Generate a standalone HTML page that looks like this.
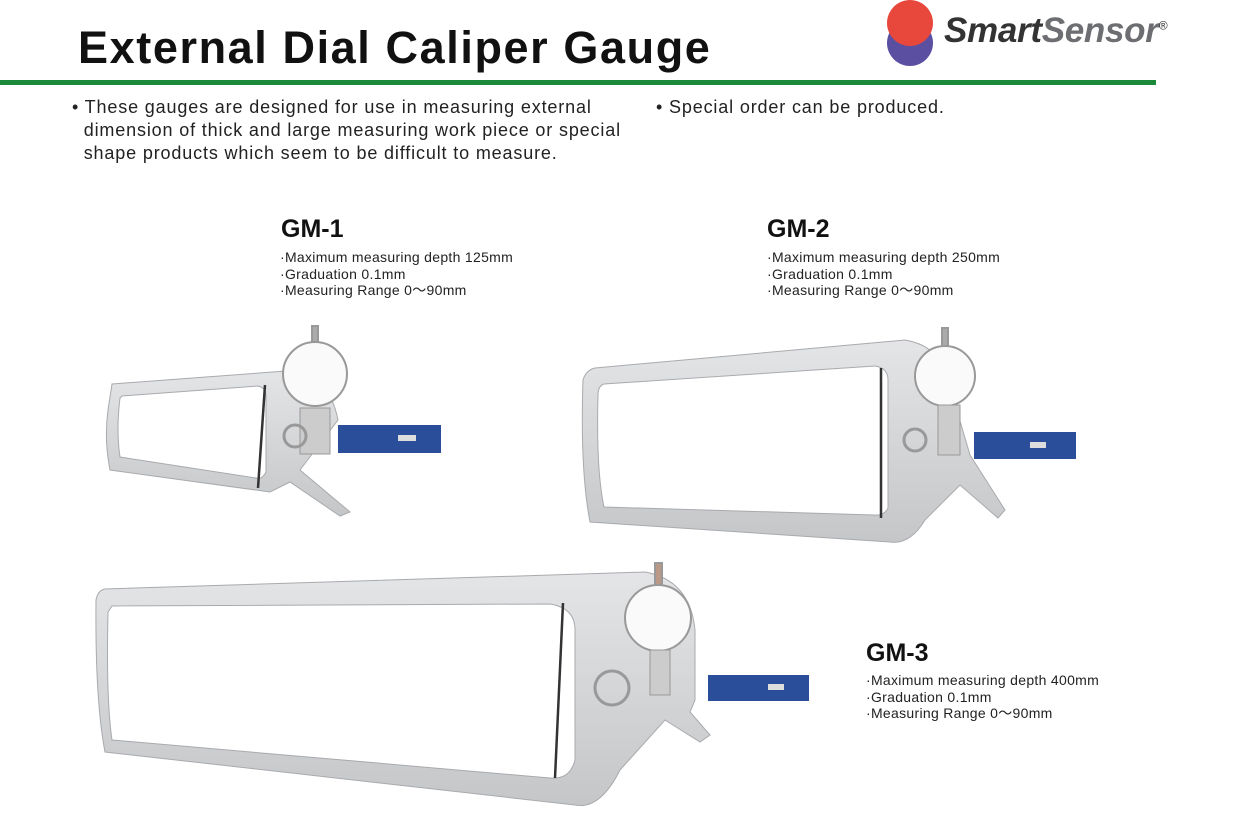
<!DOCTYPE html>
<html><head><meta charset="utf-8"><style>
body{margin:0;width:1243px;height:825px;background:#fff;position:relative;font-family:"Liberation Sans",sans-serif;overflow:hidden}
.a{position:absolute}
h1{position:absolute;left:78px;top:22px;margin:0;font-size:45px;font-weight:bold;color:#111;letter-spacing:1.6px}
.p{font-size:18px;color:#222;line-height:23px;letter-spacing:0.85px}
.t{font-size:25px;font-weight:bold;color:#111}
.s{font-size:14px;color:#222;line-height:16.5px;letter-spacing:0.3px}
</style></head><body>
<h1>External Dial Caliper Gauge</h1>
<div class="a" style="left:887px;top:20px;width:46px;height:46px;border-radius:50%;background:#5b4fa2"></div>
<div class="a" style="left:887px;top:0;width:46px;height:46px;border-radius:50%;background:#e8473c"></div>
<div class="a" style="left:944px;top:11px;font-size:35px;font-weight:bold;font-style:italic;color:#333;letter-spacing:-0.3px">Smart<span style="color:#6d6e71">Sensor</span><sup style="font-size:12px;font-weight:normal">®</sup></div>
<div class="a" style="left:0;top:80px;width:1156px;height:5px;background:#1a8a3a"></div>
<div class="a p" style="left:72px;top:96px">• These gauges are designed for use in measuring external<br>&nbsp;&nbsp;dimension of thick and large measuring work piece or special<br>&nbsp;&nbsp;shape products which seem to be difficult to measure.</div>
<div class="a p" style="left:656px;top:96px">• Special order can be produced.</div>
<div class="a t" style="left:281px;top:215px">GM-1</div>
<div class="a s" style="left:280px;top:249px">·Maximum measuring depth 125mm<br>·Graduation 0.1mm<br>·Measuring Range 0～90mm</div>
<div class="a t" style="left:767px;top:215px">GM-2</div>
<div class="a s" style="left:767px;top:249px">·Maximum measuring depth 250mm<br>·Graduation 0.1mm<br>·Measuring Range 0～90mm</div>
<div class="a t" style="left:866px;top:639px">GM-3</div>
<div class="a s" style="left:866px;top:672px">·Maximum measuring depth 400mm<br>·Graduation 0.1mm<br>·Measuring Range 0～90mm</div>
<svg class="a" style="left:0;top:0" width="1243" height="825">
<defs><linearGradient id="g" x1="0" y1="0" x2="0" y2="1"><stop offset="0" stop-color="#e4e5e7"/><stop offset="1" stop-color="#c4c6c8"/></linearGradient></defs>
<g fill="url(#g)" stroke="#a8aaad" stroke-width="1" fill-rule="evenodd">
<path d="M112 384 L300 370 Q330 380 338 420 L300 470 L350 512 L340 516 L290 482 L270 492 L110 470 Q104 440 108 410 Z M122 396 L258 386 Q266 388 266 396 L266 472 Q262 480 256 478 L120 457 Q116 430 120 398 Z"/>
<path d="M595 368 L905 340 Q935 345 945 370 L970 455 L1005 510 L998 518 L960 485 L925 520 Q910 545 890 542 L590 522 Q580 470 583 380 Q586 370 595 368 Z M604 384 L875 366 Q888 368 888 380 L888 508 Q884 516 874 515 L604 507 Q596 470 598 395 Q598 386 604 384 Z"/>
<path d="M105 589 L645 572 Q690 580 695 630 L695 700 L690 712 L710 735 L700 742 L665 720 L620 770 Q600 810 575 805 L105 752 Q95 700 96 600 Q98 590 105 589 Z M112 606 L550 604 Q575 608 575 630 L575 760 Q570 780 550 778 L112 740 Q106 700 108 612 Z"/>
</g>
<g stroke="#333" stroke-width="2.5"><line x1="265" y1="385" x2="258" y2="488"/><line x1="881" y1="368" x2="881" y2="518"/><line x1="563" y1="603" x2="555" y2="778"/></g>
<g fill="#fafafa" stroke="#999" stroke-width="2">
<rect x="312" y="326" width="6" height="20" fill="#aaa"/><circle cx="315" cy="374" r="32"/>
<rect x="942" y="328" width="6" height="20" fill="#aaa"/><circle cx="945" cy="376" r="30"/>
<rect x="655" y="563" width="7" height="22" fill="#b98"/><circle cx="658" cy="618" r="33"/>
</g>
<g fill="#ccc" stroke="#999"><rect x="300" y="408" width="30" height="46"/><circle cx="295" cy="436" r="11" fill="none" stroke-width="3"/>
<rect x="938" y="405" width="22" height="50"/><circle cx="915" cy="440" r="11" fill="none" stroke-width="3"/>
<rect x="650" y="650" width="20" height="45"/><circle cx="612" cy="688" r="17" fill="none" stroke-width="3"/></g>
<g fill="#2b4e9a"><rect x="338" y="425" width="103" height="28"/><rect x="974" y="432" width="102" height="27"/><rect x="708" y="675" width="101" height="26"/></g>
<g fill="#ddd"><rect x="398" y="435" width="18" height="6"/><rect x="1030" y="442" width="16" height="6"/><rect x="768" y="684" width="16" height="6"/></g>
</svg>
</body></html>
